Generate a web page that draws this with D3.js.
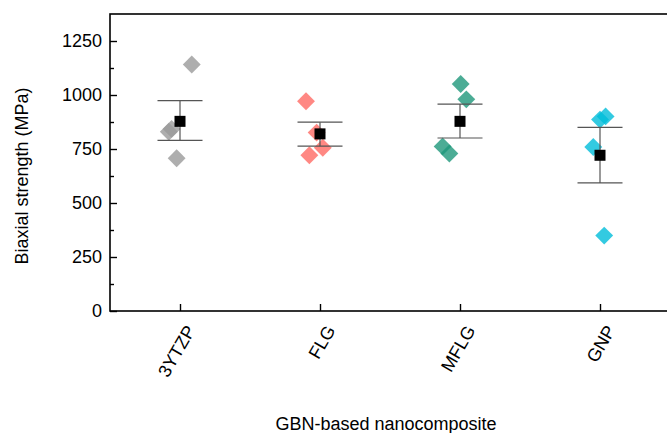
<!DOCTYPE html>
<html>
<head>
<meta charset="utf-8">
<script src="https://cdn.jsdelivr.net/npm/d3@7"></script>
<style>
  html, body { margin: 0; padding: 0; background: #fff; }
  svg { display: block; font-family: Arial, "Liberation Sans", sans-serif; }
</style>
</head>
<body>
<svg id="chart" width="667" height="433"></svg>
<script>
// ---- data ----
const categories = ["3YTZP", "FLG", "MFLG", "GNP"];
const pointValues = [
  [1141, 843, 830, 707],
  [971, 826, 756, 721],
  [1051, 980, 762, 729],
  [901, 886, 759, 349]
];
// horizontal jitter of each point, in category units
const pointJitter = [
  [0.084, -0.06, -0.08, -0.024],
  [-0.1, -0.024, 0.02, -0.076],
  [0.005, 0.045, -0.124, -0.076],
  [0.04, 0.0, -0.048, 0.03]
];
const meanValues = [878, 820, 878, 721];
const errHigh = [974, 874, 958, 850];
const errLow = [790, 763, 801, 593];
const yTicks = [0, 250, 500, 750, 1000, 1250];
const yMinorTicks = [125, 375, 625, 875, 1125];
const colors = ["#9a9a9a", "#ff6a64", "#1e977a", "#00bdd9"];

// ---- chart ----
const svg = d3.select("#chart");
const mLeft = 110, mRight = 670, mTop = 14, mBottom = 311;

const x = d3.scaleLinear().domain([0.5, 4.5]).range([mLeft, mRight]);
const y = d3.scaleLinear().domain([0, 1375]).range([mBottom, mTop]);

// frame
svg.append("rect")
  .attr("x", mLeft).attr("y", mTop)
  .attr("width", mRight - mLeft).attr("height", mBottom - mTop)
  .attr("fill", "none").attr("stroke", "#000").attr("stroke-width", 1.6);

// y axis
const yAxis = d3.axisLeft(y).tickValues(yTicks).tickFormat(d3.format("d"))
  .tickSizeInner(-7).tickSizeOuter(0).tickPadding(8);
const gy = svg.append("g").attr("transform", `translate(${mLeft},0)`).call(yAxis)
  .attr("font-size", 18).attr("font-family", "Arial, 'Liberation Sans', sans-serif");
gy.select(".domain").remove();
gy.selectAll(".tick line").attr("stroke", "#000").attr("stroke-width", 1.4);
gy.selectAll(".tick text").attr("fill", "#000");
const yMinor = d3.axisLeft(y).tickValues(yMinorTicks).tickSizeInner(-4).tickSizeOuter(0).tickFormat("");
const gym = svg.append("g").attr("transform", `translate(${mLeft},0)`).call(yMinor);
gym.select(".domain").remove();
gym.selectAll(".tick line").attr("stroke", "#000").attr("stroke-width", 1.4);

// x axis
const xAxis = d3.axisBottom(x).tickValues([1, 2, 3, 4]).tickSizeInner(-7).tickSizeOuter(0).tickFormat("");
const gx = svg.append("g").attr("transform", `translate(0,${mBottom})`).call(xAxis);
gx.select(".domain").remove();
gx.selectAll(".tick line").attr("stroke", "#000").attr("stroke-width", 1.4);

svg.append("g").selectAll("text").data(categories).join("text")
  .attr("transform", (d, i) => `translate(${x(i + 1) + 16},${mBottom + 19}) rotate(-60)`)
  .attr("text-anchor", "end")
  .attr("font-size", 18)
  .attr("fill", "#000")
  .text(d => d);

// axis titles
svg.append("text")
  .attr("x", 386).attr("y", 430)
  .attr("text-anchor", "middle")
  .attr("font-size", 18)
  .attr("fill", "#000")
  .text("GBN-based nanocomposite");

svg.append("text")
  .attr("transform", "translate(28,176) rotate(-90)")
  .attr("text-anchor", "middle")
  .attr("font-size", 18)
  .attr("fill", "#000")
  .text("Biaxial strength (MPa)");

// points
const pts = [];
pointValues.forEach((vals, i) => vals.forEach((v, j) => pts.push({ c: i, v, j: pointJitter[i][j] })));
const diamond = d3.symbol().type(d3.symbolSquare).size(160);
svg.append("g").selectAll("path").data(pts).join("path")
  .attr("d", diamond)
  .attr("transform", d => `translate(${x(d.c + 1 + d.j)},${y(d.v)}) rotate(45)`)
  .attr("fill", d => colors[d.c])
  .attr("fill-opacity", 0.8);

// error bars
const eb = svg.append("g").attr("stroke", "#555").attr("stroke-width", 1.2);
categories.forEach((c, i) => {
  const cx = x(i + 1);
  eb.append("line").attr("x1", cx).attr("x2", cx).attr("y1", y(errLow[i])).attr("y2", y(errHigh[i]));
  eb.append("line").attr("x1", cx - 22.5).attr("x2", cx + 22.5).attr("y1", y(errLow[i])).attr("y2", y(errLow[i]));
  eb.append("line").attr("x1", cx - 22.5).attr("x2", cx + 22.5).attr("y1", y(errHigh[i])).attr("y2", y(errHigh[i]));
});

// means
svg.append("g").selectAll("rect").data(meanValues).join("rect")
  .attr("x", (d, i) => x(i + 1) - 5.5)
  .attr("y", d => y(d) - 5.5)
  .attr("width", 11).attr("height", 11)
  .attr("fill", "#000");
</script>
</body>
</html>
